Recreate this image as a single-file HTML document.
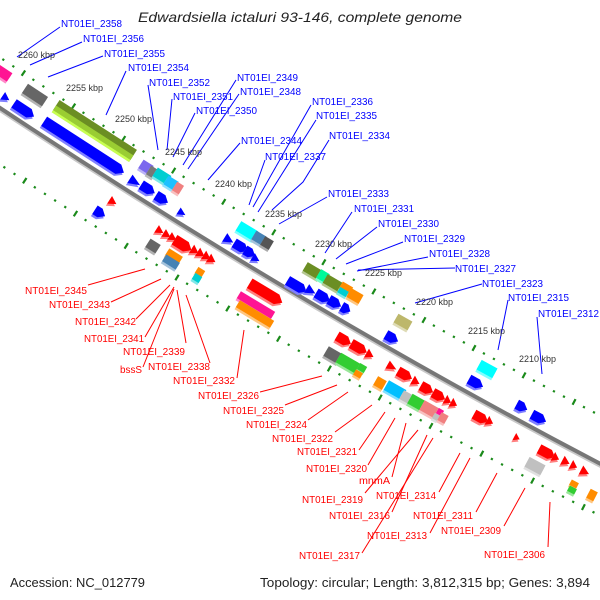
<!DOCTYPE html>
<html><head><meta charset="utf-8"><style>
html,body{margin:0;padding:0;background:#fff;width:600px;height:600px;overflow:hidden}
svg{display:block}
.b{fill:#0000ff;font-family:"Liberation Sans",sans-serif;font-size:10.5px}
.r{fill:#ff0000;font-family:"Liberation Sans",sans-serif;font-size:10.5px}
.k{fill:#333;font-family:"Liberation Sans",sans-serif;font-size:9px}
.lb line,.lb polyline{stroke:#0000ff;stroke-width:1;fill:none}
.lr line{stroke:#ff0000;stroke-width:1}
</style></head><body>
<svg id="s" width="600" height="600" viewBox="0 0 600 600" xmlns="http://www.w3.org/2000/svg">
<text x="138" y="22" textLength="324" lengthAdjust="spacingAndGlyphs" font-family="Liberation Sans, sans-serif" font-style="italic" font-size="14" fill="#222">Edwardsiella ictaluri 93-146, complete genome</text>
<path d="M-20,94.6 Q300,308.4 620,474" transform="translate(0,2)" stroke="#c8c8c8" stroke-width="4" fill="none"/>
<path d="M-20,94.6 Q300,308.4 620,474" stroke="#777" stroke-width="4" fill="none"/>
<g id="feat"></g>
<g class="lb">
<line x1="60" y1="27" x2="17" y2="57"/><line x1="82" y1="42" x2="30" y2="65"/><line x1="103" y1="56" x2="48" y2="77"/><line x1="126" y1="71" x2="106" y2="115"/>
<line x1="148" y1="85" x2="158" y2="150"/><line x1="172" y1="99" x2="167" y2="150"/><line x1="195" y1="113" x2="173" y2="157"/><line x1="236" y1="80" x2="183" y2="165"/><line x1="239" y1="94" x2="188" y2="169"/>
<line x1="240" y1="143" x2="208" y2="180"/><line x1="265" y1="160" x2="249" y2="205"/><line x1="311" y1="105" x2="253" y2="207"/><line x1="316" y1="120" x2="258" y2="212"/>
<polyline points="329,140 303,182 272,210"/><line x1="327" y1="197" x2="279" y2="224"/><line x1="352" y1="212" x2="325" y2="253"/><line x1="377" y1="227" x2="336" y2="259"/>
<line x1="403" y1="242" x2="346" y2="264"/><line x1="428" y1="257" x2="357" y2="271"/><line x1="455" y1="268" x2="358" y2="270"/><line x1="482" y1="284" x2="415" y2="303"/>
<line x1="508" y1="300" x2="498" y2="350"/><line x1="537" y1="317" x2="542" y2="374"/>
</g>
<g class="lr">
<line x1="88" y1="285" x2="145" y2="269"/><line x1="111" y1="302" x2="161" y2="279"/><line x1="136" y1="319" x2="170" y2="285"/><line x1="145" y1="337" x2="174" y2="287"/>
<line x1="186" y1="343" x2="177" y2="290"/><line x1="143" y1="367" x2="174" y2="289"/><line x1="210" y1="363" x2="186" y2="295"/><line x1="237" y1="378" x2="244" y2="330"/>
<line x1="260" y1="392" x2="322" y2="376"/><line x1="285" y1="405" x2="337" y2="385"/><line x1="308" y1="420" x2="348" y2="392"/><line x1="335" y1="432" x2="372" y2="405"/>
<line x1="359" y1="450" x2="385" y2="412"/><line x1="368" y1="465" x2="395" y2="418"/><line x1="392" y1="477" x2="406" y2="423"/><line x1="365" y1="493" x2="418" y2="430"/>
<line x1="439" y1="492" x2="460" y2="453"/><line x1="392" y1="512" x2="427" y2="435"/><line x1="476" y1="512" x2="497" y2="473"/><line x1="430" y1="533" x2="470" y2="458"/>
<line x1="504" y1="526" x2="525" y2="488"/><line x1="362" y1="553" x2="433" y2="438"/><line x1="548" y1="547" x2="550" y2="502"/>
</g>
<g class="k">
<text x="18" y="58" textLength="37" lengthAdjust="spacingAndGlyphs">2260 kbp</text>
<text x="66" y="91" textLength="37" lengthAdjust="spacingAndGlyphs">2255 kbp</text>
<text x="115" y="122" textLength="37" lengthAdjust="spacingAndGlyphs">2250 kbp</text>
<text x="165" y="155" textLength="37" lengthAdjust="spacingAndGlyphs">2245 kbp</text>
<text x="215" y="187" textLength="37" lengthAdjust="spacingAndGlyphs">2240 kbp</text>
<text x="265" y="217" textLength="37" lengthAdjust="spacingAndGlyphs">2235 kbp</text>
<text x="315" y="247" textLength="37" lengthAdjust="spacingAndGlyphs">2230 kbp</text>
<text x="365" y="276" textLength="37" lengthAdjust="spacingAndGlyphs">2225 kbp</text>
<text x="416" y="305" textLength="37" lengthAdjust="spacingAndGlyphs">2220 kbp</text>
<text x="468" y="334" textLength="37" lengthAdjust="spacingAndGlyphs">2215 kbp</text>
<text x="519" y="362" textLength="37" lengthAdjust="spacingAndGlyphs">2210 kbp</text>
</g>
<g class="b">
<text x="61" y="27" textLength="61" lengthAdjust="spacingAndGlyphs">NT01EI_2358</text>
<text x="83" y="42" textLength="61" lengthAdjust="spacingAndGlyphs">NT01EI_2356</text>
<text x="104" y="57" textLength="61" lengthAdjust="spacingAndGlyphs">NT01EI_2355</text>
<text x="128" y="71" textLength="61" lengthAdjust="spacingAndGlyphs">NT01EI_2354</text>
<text x="149" y="86" textLength="61" lengthAdjust="spacingAndGlyphs">NT01EI_2352</text>
<text x="173" y="100" textLength="60" lengthAdjust="spacingAndGlyphs">NT01EI_2351</text>
<text x="196" y="114" textLength="61" lengthAdjust="spacingAndGlyphs">NT01EI_2350</text>
<text x="237" y="81" textLength="61" lengthAdjust="spacingAndGlyphs">NT01EI_2349</text>
<text x="240" y="95" textLength="61" lengthAdjust="spacingAndGlyphs">NT01EI_2348</text>
<text x="241" y="144" textLength="61" lengthAdjust="spacingAndGlyphs">NT01EI_2344</text>
<text x="265" y="160" textLength="61" lengthAdjust="spacingAndGlyphs">NT01EI_2337</text>
<text x="312" y="105" textLength="61" lengthAdjust="spacingAndGlyphs">NT01EI_2336</text>
<text x="316" y="119" textLength="61" lengthAdjust="spacingAndGlyphs">NT01EI_2335</text>
<text x="329" y="139" textLength="61" lengthAdjust="spacingAndGlyphs">NT01EI_2334</text>
<text x="328" y="197" textLength="61" lengthAdjust="spacingAndGlyphs">NT01EI_2333</text>
<text x="354" y="212" textLength="60" lengthAdjust="spacingAndGlyphs">NT01EI_2331</text>
<text x="378" y="227" textLength="61" lengthAdjust="spacingAndGlyphs">NT01EI_2330</text>
<text x="404" y="242" textLength="61" lengthAdjust="spacingAndGlyphs">NT01EI_2329</text>
<text x="429" y="257" textLength="61" lengthAdjust="spacingAndGlyphs">NT01EI_2328</text>
<text x="455" y="272" textLength="61" lengthAdjust="spacingAndGlyphs">NT01EI_2327</text>
<text x="482" y="287" textLength="61" lengthAdjust="spacingAndGlyphs">NT01EI_2323</text>
<text x="508" y="301" textLength="61" lengthAdjust="spacingAndGlyphs">NT01EI_2315</text>
<text x="538" y="317" textLength="61" lengthAdjust="spacingAndGlyphs">NT01EI_2312</text>
</g>
<g class="r">
<text x="25" y="294" textLength="62" lengthAdjust="spacingAndGlyphs">NT01EI_2345</text>
<text x="49" y="308" textLength="61" lengthAdjust="spacingAndGlyphs">NT01EI_2343</text>
<text x="75" y="325" textLength="61" lengthAdjust="spacingAndGlyphs">NT01EI_2342</text>
<text x="84" y="342" textLength="60" lengthAdjust="spacingAndGlyphs">NT01EI_2341</text>
<text x="123" y="355" textLength="62" lengthAdjust="spacingAndGlyphs">NT01EI_2339</text>
<text x="120" y="373" textLength="22" lengthAdjust="spacingAndGlyphs">bssS</text>
<text x="148" y="370" textLength="62" lengthAdjust="spacingAndGlyphs">NT01EI_2338</text>
<text x="173" y="384" textLength="62" lengthAdjust="spacingAndGlyphs">NT01EI_2332</text>
<text x="198" y="399" textLength="61" lengthAdjust="spacingAndGlyphs">NT01EI_2326</text>
<text x="223" y="414" textLength="61" lengthAdjust="spacingAndGlyphs">NT01EI_2325</text>
<text x="246" y="428" textLength="61" lengthAdjust="spacingAndGlyphs">NT01EI_2324</text>
<text x="272" y="442" textLength="61" lengthAdjust="spacingAndGlyphs">NT01EI_2322</text>
<text x="297" y="455" textLength="60" lengthAdjust="spacingAndGlyphs">NT01EI_2321</text>
<text x="306" y="472" textLength="61" lengthAdjust="spacingAndGlyphs">NT01EI_2320</text>
<text x="359" y="484" textLength="31" lengthAdjust="spacingAndGlyphs">mnmA</text>
<text x="302" y="503" textLength="61" lengthAdjust="spacingAndGlyphs">NT01EI_2319</text>
<text x="376" y="499" textLength="60" lengthAdjust="spacingAndGlyphs">NT01EI_2314</text>
<text x="329" y="519" textLength="61" lengthAdjust="spacingAndGlyphs">NT01EI_2316</text>
<text x="413" y="519" textLength="60" lengthAdjust="spacingAndGlyphs">NT01EI_2311</text>
<text x="367" y="539" textLength="60" lengthAdjust="spacingAndGlyphs">NT01EI_2313</text>
<text x="441" y="534" textLength="60" lengthAdjust="spacingAndGlyphs">NT01EI_2309</text>
<text x="299" y="559" textLength="61" lengthAdjust="spacingAndGlyphs">NT01EI_2317</text>
<text x="484" y="558" textLength="61" lengthAdjust="spacingAndGlyphs">NT01EI_2306</text>
</g>
<text x="10" y="587" textLength="135" lengthAdjust="spacingAndGlyphs" font-family="Liberation Sans, sans-serif" font-size="12.5" fill="#222">Accession: NC_012779</text>
<text x="260" y="587" textLength="330" lengthAdjust="spacingAndGlyphs" font-family="Liberation Sans, sans-serif" font-size="12.5" fill="#222">Topology: circular; Length: 3,812,315 bp; Genes: 3,894</text>
</svg>
<script>
(function(){
var NS="http://www.w3.org/2000/svg",G=document.getElementById("feat");
function f(x){return 108+0.668*x-0.0001278*x*x}
function sl(x){return 0.668-0.0002556*x}
function el(t,a){var e=document.createElementNS(NS,t);for(var k in a)e.setAttribute(k,a[k]);G.appendChild(e);return e}
function light(c){var n=parseInt(c.slice(1),16),r=n>>16,g=(n>>8)&255,b=n&255;
r=Math.round(r+(255-r)*.5);g=Math.round(g+(255-g)*.5);b=Math.round(b+(255-b)*.5);
return "rgb("+r+","+g+","+b+")"}
// scale dots
for(var i=-8;i<=66;i++){var x0=i*10.08,s=sl(x0),th=Math.atan(s),sn=Math.sin(th),cs=Math.cos(th),d=th*180/Math.PI;
[-42,47].forEach(function(v){var px=x0-v*sn,py=f(x0)+v*cs;
if(px<-5||px>605||py<-5||py>605)return;
if(((i%5)+5)%5==0){el("rect",{x:-1,y:-3.2,width:2.2,height:6.4,fill:"#1a8a1a",transform:"translate("+px+","+py+") rotate("+d+")"})}
else el("rect",{x:-1.1,y:-1.1,width:2.2,height:2.2,fill:"#1a8a1a",transform:"translate("+px+","+py+") rotate("+d+")"});});}
var B="#0000ff",R="#ff0000";
var F=[
[6,98,8,9,B,"t"],[24,110,24,10,B,"a"],[84,147,95,11,B,"a"],[135,182,12,10,B,"t"],[148,189,16,10,B,"a"],[162,199,14,10,B,"a"],[182,213,8,8,B,"t"],
[229,240,10,10,B,"t"],[241,247,16,10,B,"a"],[250,253,12,10,B,"a"],[256,259,8,9,B,"t"],[297,286,22,10,B,"a"],[311,291,10,10,B,"t"],[323,297,16,10,B,"a"],
[335,303,14,10,B,"a"],[346,309,10,10,B,"a"],[392,338,14,10,B,"a"],[476,383,16,10,B,"a"],[522,407,12,10,B,"a"],[539,418,16,10,B,"a"],
[3,73,16,10,"#ff1493","b"],[35,95,24,11,"#666666","b"],[95,130,92,12,"#6b8e23","o"],[146,167,12,10,"#7b68ee","b"],[152,172,8,10,"#777777","b"],
[162,176,16,10,"#00ced1","b"],[171,183,12,10,"#1ec0ff","b"],[178,188,8,10,"#f08080","b"],[247,231,20,11,"#00ffff","b"],[259,238,12,10,"#4682b4","b"],
[267,243,10,10,"#555555","b"],[313,271,18,10,"#6b8e23","b"],[323,276,10,10,"#00fa9a","b"],[333,283,18,10,"#6b8e23","b"],[346,288,12,8,"#ff8c00","b"],
[343,292,10,6,"#00ced1","b"],[355,296,14,10,"#ff8c00","b"],[403,322,16,10,"#bdb76b","b"],[487,369,18,11,"#00ffff","b"],
[113,202,8,9,R,"t"],[100,213,12,10,B,"a"],[160,231,8,9,R,"t"],[167,235,8,9,R,"t"],[173,238,8,9,R,"t"],[183,245,20,11,R,"a"],
[195,251,8,10,R,"t"],[201,254,8,10,R,"t"],[207,257,8,10,R,"t"],[212,260,8,10,R,"t"],[266,293,38,11,R,"a"],[256,305,40,8,"#ff1493","b"],[255,314,40,8,"#ff8c00","b"],
[344,340,16,10,R,"a"],[359,348,18,10,R,"a"],[370,355,8,10,R,"t"],[392,367,10,9,R,"t"],[405,375,16,10,R,"a"],[416,382,8,10,R,"t"],[427,389,14,10,R,"a"],
[439,396,14,10,R,"a"],[448,401,7,10,R,"t"],[454,404,7,10,R,"t"],[481,418,16,10,R,"a"],[490,422,7,10,R,"t"],[517,438,6,8,R,"t"],[547,453,18,10,R,"a"],
[556,458,7,10,R,"t"],[566,462,8,10,R,"t"],[574,466,7,10,R,"t"],[585,472,9,10,R,"t"],
[153,246,12,10,"#666666","b"],[174,256,16,8,"#ff8c00","b"],[171,262,16,8,"#4682b4","b"],[200,272,8,7,"#ff8c00","b"],[197,278,8,7,"#00ced1","b"],
[333,355,16,11,"#666666","b"],[348,363,22,11,"#32cd32","b"],[362,368,8,7,"#32cd32","b"],[358,374,8,6,"#ff8c00","b"],[380,383,10,10,"#ff8c00","b"],
[395,390,20,11,"#00bfff","b"],[406,397,10,10,"#c0c0c0","b"],[416,402,14,11,"#32cd32","b"],[429,409,16,11,"#f08080","b"],[440,412,6,6,"#ff1493","b"],
[436,417,6,6,"#c0c0c0","b"],[443,418,8,9,"#f08080","b"],[535,466,18,11,"#c0c0c0","b"],[574,484,8,6,"#ff8c00","b"],[572,490,8,6,"#32cd32","b"],[592,495,8,10,"#ff8c00","b"]
];
function pts(L,W,t,dy){var l=-L/2,r=L/2,tp=-W/2+dy,bt=W/2+dy,m=dy,p;
if(t=="a"){var h=Math.min(W*0.6,L*0.5);p=[[l,tp],[r-h,tp],[r,m],[r-h,bt],[l,bt]]}
else if(t=="t"){p=[[l,tp],[r,m],[l,bt]]}
else p=[[l,tp],[r,tp],[r,bt],[l,bt]];
return p.map(function(q){return q[0]+","+q[1]}).join(" ")}
F.forEach(function(q){var d=Math.atan(sl(q[0]))*180/Math.PI,tr="translate("+q[0]+","+q[1]+") rotate("+d+")";
var t=q[5]=="o"?"b":q[5];
el("polygon",{points:pts(q[2],q[3],t,2.5),fill:light(q[4]),transform:tr});
el("polygon",{points:pts(q[2],q[3],t,0),fill:q[4],transform:tr});
if(q[5]=="o"){el("rect",{x:-q[2]/2,y:0.5,width:q[2],height:q[3]/2-0.5,fill:"#9acd32",transform:tr});
el("rect",{x:-q[2]/2,y:q[3]/2,width:q[2],height:2.5,fill:"#c8ff50",transform:tr});}
});
})();
</script>
</body></html>
